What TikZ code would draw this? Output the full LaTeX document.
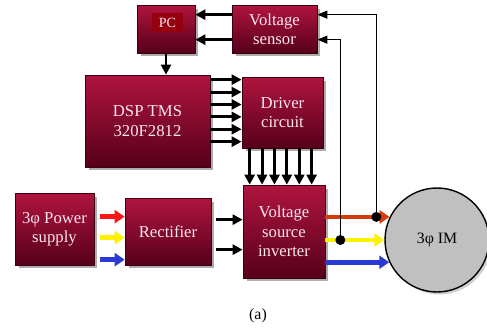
\documentclass[tikz,border=0pt]{standalone}
\usepackage{fontspec}
\setmainfont{Liberation Serif}
\usetikzlibrary{calc,arrows.meta,shadows}
\definecolor{boxtop}{RGB}{176,20,64}
\definecolor{boxbot}{RGB}{86,0,26}
\definecolor{boxtext}{RGB}{250,230,238}
\definecolor{pcred}{RGB}{150,0,14}
\definecolor{pred}{RGB}{250,22,22}
\definecolor{lred}{RGB}{212,60,12}
\definecolor{lyel}{RGB}{255,242,0}
\definecolor{lblue}{RGB}{42,58,212}
\definecolor{imgray}{RGB}{192,192,192}

\begin{document}
\begin{tikzpicture}[x=0.02cm,y=-0.02cm,
  blk/.style={rectangle, draw=boxbot!70!black, line width=0.4pt,
    top color=boxtop, bottom color=boxbot, text=boxtext, align=center,
    font=\fontsize{9.5}{11}\selectfont,
    drop shadow={shadow xshift=0.07cm, shadow yshift=-0.07cm, fill=black!40, opacity=0.8}},
  fat/.style={line width=1.7pt, -{Triangle[length=0.2cm,width=0.2cm]}},
  thinfb/.style={line width=0.6pt, -{Triangle[length=0.2cm,width=0.16cm]}},
  phase/.style={line width=2.6pt, -{Triangle[length=0.2cm,width=0.26cm]}},
  dot/.style={circle, fill=black, inner sep=0pt, minimum size=0.2cm}]

\useasboundingbox (0,0) rectangle (487,328);

\node[blk, minimum width=1.16cm, minimum height=0.96cm] (pc) at (166,29) {};
\node[fill=pcred, text=boxtext, font=\fontsize{8}{9}\selectfont, minimum width=0.62cm,
  minimum height=0.38cm, inner sep=0pt] (pctag) at (167.5,22.5) {PC};
\node[blk, minimum width=1.7cm, minimum height=0.96cm] (vs) at (274.5,29) {Voltage\\sensor};
\node[blk, minimum width=2.5cm, minimum height=1.84cm] (dsp) at (147.5,121) {DSP TMS\\320F2812};
\node[blk, minimum width=1.62cm, minimum height=1.42cm] (drv) at (282.5,112.5) {Driver\\circuit};
\node[blk, minimum width=1.64cm, minimum height=1.86cm] (vsi) at (284,231.5) {Voltage\\source\\inverter};
\node[blk, minimum width=1.58cm, minimum height=1.44cm] (ps) at (54.5,229) {3φ Power\\supply};
\node[blk, minimum width=1.72cm, minimum height=1.34cm] (rect) at (168,231.5) {Rectifier};
\node[circle, draw=black, line width=0.8pt, fill=imgray, minimum size=2.08cm,
  font=\fontsize{9}{10.5}\selectfont,
  drop shadow={shadow xshift=0.05cm, shadow yshift=-0.05cm, fill=black!30, opacity=0.6}] (im) at (437,240) {3φ IM};
\node[font=\fontsize{9}{10}\selectfont] (cap) at (258,316) {(a)};

\foreach \dy in {10, 35}{
  \coordinate (v) at ($(vs.north west)+(0,\dy)$);
  \draw[fat] (v) -- (v -| pc.east);
}
\draw[fat] (pc) -- (pc |- dsp.north);

\foreach \k in {0,...,5}{
  \coordinate (g) at ($(drv.north west)+(0,3+12.4*\k)$);
  \draw[fat] (g -| dsp.east) -- (g);
  \coordinate (h) at ($(drv.south west)+(8+12.4*\k,0)$);
  \draw[fat] (h) -- (h |- vsi.north);
}

\foreach \c/\dy in {pred/19, lyel/40, lblue/62}{
  \coordinate (p) at ($(rect.north west)+(0,\dy)$);
  \draw[phase, draw=\c, shorten <=0.12cm] (p -| ps.east) -- (p);
}
\foreach \dy in {22, 52}{
  \coordinate (q) at ($(rect.north east)+(0,\dy)$);
  \draw[fat, shorten <=0.1cm] (q) -- (q -| vsi.west);
}

\draw[phase, draw=lred] (vsi.east |- im.154) -- (im.154);
\draw[phase, draw=lyel] (vsi.east |- im.west) -- (im.west);
\draw[phase, draw=lblue] (vsi.east |- im.205) -- (im.205);

\coordinate (s1) at ($(vsi.east |- im.154)+(51,0)$);
\coordinate (s2) at ($(vsi.east |- im.west)+(15,0)$);
\draw[thinfb] (s1) |- ($(vs.north east)+(0,10)$);
\draw[thinfb] (s2) |- ($(vs.north east)+(0,35)$);
\node[dot] (d1) at (s1) {};
\node[dot] (d2) at (s2) {};
\end{tikzpicture}
\end{document}
